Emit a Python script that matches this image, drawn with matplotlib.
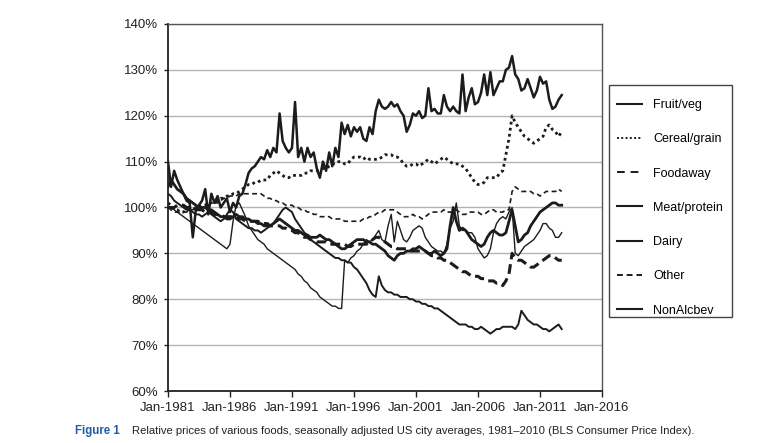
import matplotlib
matplotlib.use("Agg")
import matplotlib.pyplot as plt
from matplotlib.lines import Line2D
from matplotlib.patches import Rectangle
import pandas as pd

plt.rcParams['font.family'] = ['Liberation Sans', 'DejaVu Sans']

# quarterly readings, Jan 1981 .. Oct 2012 (values in %)
dates = pd.date_range('1981-01-01', periods=128, freq='QS')

fruit_veg = [
    110, 104.5, 108, 106,   104.5, 103, 101.5, 101,   93.5, 99.5, 100.5, 101.5,
    104, 98.5, 103, 101,    102.5, 100, 101, 102,     99, 101, 100, 102.5,
    103, 105, 107.5, 108.5, 109, 110, 111, 110.5,     112.5, 111, 113, 112,
    120.5, 114.5, 113, 112, 113, 123, 111, 113,       110, 113, 111, 112,
    108.5, 106.5, 110, 108, 112, 109, 113, 111,       118.5, 116, 118, 115.5,
    117.5, 116.5, 117.5, 115, 114.5, 117.5, 116, 121, 123.5, 122, 121.5, 122,
    123, 122, 122.5, 121,   120, 116.5, 118, 120.5,   120, 121, 119.5, 120,
    126, 121, 121.5, 120.5, 120.5, 124.5, 122, 121,   122, 121, 120.5, 129,
    121, 124, 126, 122.5,   123, 125, 129, 124.5,     129.5, 124.5, 126, 127.5,
    127.5, 130, 130.5, 133, 129, 128, 125.5, 126,     128, 126, 124, 125.5,
    128.5, 127, 127.5, 123.5, 121.5, 122, 123.5, 124.5,
]

cereal_grain = [
    101, 100.5, 99.5, 99.5, 99, 99, 99.5, 99.5,       99.5, 100, 100, 100.5,
    100.5, 101, 101, 101.5, 101.5, 102, 102, 102.5,   102.5, 103, 103, 103.5,
    104, 104.5, 105, 105,   105.5, 105.5, 106, 106,   106, 107, 107.5, 108,
    107.5, 107, 106.5, 106.5, 107, 107, 107, 107,     107.5, 107.5, 108, 108,
    108, 108.5, 108.5, 108.5, 109, 109.5, 109.5, 110, 110, 109.5, 109.5, 110.5,
    111, 111, 111, 110.5,   111, 110.5, 110.5, 110.5, 110.5, 111, 111.5, 111.5,
    111.5, 111, 111, 110.5, 109.5, 109, 109, 109.5,   109.5, 109, 109.5, 110,
    110.5, 110, 109.5, 110, 110.5, 111, 110.5, 110,   109.5, 109.5, 109.5, 109,
    108.5, 107.5, 106.5, 105.5, 105, 105, 105.5, 106.5, 106.5, 106.5, 106.5, 107.5,
    108, 111.5, 115, 120,   118.5, 117.5, 116.5, 115.5, 115, 114.5, 114, 114.5,
    115, 115.5, 117.5, 118, 117, 116.5, 115.5, 116.5,
]

foodaway = [
    100, 100, 100, 100.5,   100.5, 100.5, 100, 100,   100, 99.5, 99.5, 99.5,
    99, 99, 99, 98.5,       98.5, 98.5, 98, 98,       98, 98, 98, 97.5,
    97.5, 97, 97, 97,       97, 97, 96.5, 96.5,       96.5, 96, 96, 96,
    96, 95.5, 95.5, 95,     95, 94.5, 94.5, 94,       93.5, 93.5, 93, 93,
    92.5, 92.5, 92.5, 92.5, 92, 92, 92, 92,           92, 92, 91.5, 91.5,
    92, 92, 92, 92,         92, 92.5, 93, 93.5,       93.5, 93, 92.5, 92,
    91.5, 91.5, 91, 91,     91, 91, 90.5, 90.5,       90.5, 90.5, 90.5, 90.5,
    90, 89.5, 89.5, 89,     89, 88.5, 88.5, 88,       87.5, 87, 86.5, 86,
    86, 85.5, 85, 85,       85, 84.5, 84.5, 84,       84, 84, 83.5, 83.5,
    83, 84, 85.5, 90,       89, 88.5, 88.5, 88,       87.5, 87, 87, 87.5,
    88, 88.5, 89, 89.5,     89.5, 89, 88.5, 88.5,
]

meat_protein = [
    104.5, 106, 105, 104,   103.5, 103, 102, 101.5,   101, 100.5, 100, 100,
    100, 99.5, 99.5, 99,    98.5, 98, 98, 97.5,       97.5, 98, 98.5, 98,
    98, 97.5, 97.5, 97,     97, 96.5, 96.5, 96,       96, 96, 96.5, 97,
    97.5, 97, 96.5, 96,     95.5, 95, 95, 94.5,       94, 94, 93.5, 93.5,
    93.5, 94, 93.5, 93,     93, 92.5, 92, 91.5,       91, 91, 91.5, 92,
    92.5, 93, 93, 93,       92.5, 92.5, 92, 92,       91.5, 91, 90.5, 89.5,
    89, 88.5, 89.5, 90,     90, 90.5, 90.5, 91,       91, 91.5, 91, 90.5,
    90, 90, 90.5, 90,       89.5, 90, 91, 96,         100, 97, 95, 95.5,
    95, 94, 93, 92.5,       92, 91.5, 92, 93.5,       94.5, 95, 94.5, 94,
    94, 94.5, 97, 99.5,     96, 92.5, 93, 94,         94.5, 96, 97, 98,
    99, 99.5, 100, 100.5,   101, 101, 100.5, 100.5,
]

dairy = [
    100, 100, 99.5, 99,     98.5, 98, 97.5, 97,       96.5, 96, 95.5, 95,
    94.5, 94, 93.5, 93,     92.5, 92, 91.5, 91,       92, 97, 100.5, 101,
    99.5, 98, 96, 95,       94, 93, 92.5, 92,         91, 90.5, 90, 89.5,
    89, 88.5, 88, 87.5,     87, 86.5, 85.5, 85,       84, 83.5, 82.5, 82,
    81.5, 80.5, 80, 79.5,   79, 78.5, 78.5, 78,       78, 88.5, 88, 89,
    89.5, 90.5, 91, 92,     93, 92.5, 93, 94,         95, 93, 92.5, 96,
    98.5, 92.5, 97, 95,     93, 92.5, 93.5, 95,       95.5, 96, 95.5, 93.5,
    92.5, 91.5, 91, 90.5,   90.5, 90, 92, 95.5,       97, 101, 96, 95,
    95, 94.5, 94.5, 93.5,   91, 90, 89, 89.5,         91, 94.5, 96.5, 97.5,
    98, 97.5, 99, 100,      90, 89.5, 90.5, 91.5,     92, 92.5, 93, 94,
    95, 96.5, 96.5, 95.5,   95, 93.5, 93.5, 94.5,
]

other = [
    100, 99.5, 99, 99,      99, 99, 99, 99.5,         99.5, 100, 100, 100,
    100, 100.5, 100.5, 101, 101, 101.5, 102, 102,     102.5, 102.5, 102.5, 103,
    103, 103, 103, 103,     103, 103, 103, 102.5,     102, 102, 101.5, 101.5,
    101, 101, 100.5, 100.5, 100.5, 100, 100, 99.5,    99.5, 99, 99, 98.5,
    98.5, 98, 98, 98,       98, 97.5, 97.5, 97.5,     97.5, 97, 97, 97,
    97, 97, 97, 97.5,       97.5, 98, 98, 98.5,       99, 99, 99.5, 99.5,
    99.5, 99.5, 99, 98.5,   98, 98, 98, 98.5,         98, 98, 97.5, 98,
    98.5, 99, 99, 99,       99, 99.5, 99, 99,         99, 99.5, 99, 98.5,
    98.5, 99, 99, 99,       99, 98.5, 98.5, 99,       99.5, 99.5, 99, 99,
    99, 99.5, 99.5, 103.5,  104.5, 104, 103.5, 103.5, 103.5, 103.5, 103, 103,
    102.5, 103, 103.5, 103.5, 103.5, 103.5, 104, 103.5,
]

nonalcbev = [
    103, 102.5, 101.5, 101, 100.5, 100, 99.5, 99.5,   99, 98.5, 98.5, 98,
    98.5, 99, 98.5, 98,     97.5, 97, 97.5, 98.5,     99.5, 99, 97.5, 97,
    96.5, 96, 95.5, 95.5,   95, 95, 94.5, 95,         95.5, 96, 96.5, 97.5,
    98.5, 99.5, 100, 99.5,  99, 97.5, 96.5, 95.5,     94.5, 94, 93, 92.5,
    92, 91.5, 91, 90.5,     90, 89.5, 89, 89,         88.5, 88.5, 88, 88,
    87, 86.5, 85.5, 84.5,   83.5, 82, 81, 80.5,       85, 83, 82, 81.5,
    81.5, 81, 81, 80.5,     80.5, 80.5, 80, 80,       79.5, 79.5, 79, 79,
    78.5, 78.5, 78, 78,     77.5, 77, 76.5, 76,       75.5, 75, 74.5, 74.5,
    74.5, 74, 74, 73.5,     73.5, 74, 73.5, 73,       72.5, 73, 73.5, 73.5,
    74, 74, 74, 74,         73.5, 74.5, 77.5, 76.5,   75.5, 75, 74.5, 74.5,
    74, 73.5, 73.5, 73,     73.5, 74, 74.5, 73.5,
]

series_names = ['Fruit/veg', 'Cereal/grain', 'Foodaway', 'Meat/protein',
                'Dairy', 'Other', 'NonAlcbev']
y_ticks = [60, 70, 80, 90, 100, 110, 120, 130, 140]
x_tick_years = [1981, 1986, 1991, 1996, 2001, 2006, 2011, 2016]

ink = '#1c1c1c'
styles = {
    'Fruit/veg':    dict(lw=1.8, ls='-'),
    'Cereal/grain': dict(lw=2.0, ls=(0, (1, 1.2))),
    'Foodaway':     dict(lw=2.2, ls=(0, (3.2, 1.6))),
    'Meat/protein': dict(lw=2.0, ls='-'),
    'Dairy':        dict(lw=1.0, ls='-'),
    'Other':        dict(lw=1.2, ls=(0, (3, 2))),
    'NonAlcbev':    dict(lw=1.4, ls='-'),
}
legend_ls = {
    'Cereal/grain': (0, (1, 1.2)),
    'Foodaway': (0, (4, 3)),
    'Other': (0, (3, 2)),
}
data = dict(zip(series_names, [fruit_veg, cereal_grain, foodaway, meat_protein,
                               dairy, other, nonalcbev]))

W, H = 768, 443
fig = plt.figure(figsize=(W/100, H/100), dpi=100)
ax = fig.add_axes([168/W, 1-391/H, (602-168)/W, (391-24)/H])

for name in series_names:
    st = styles[name]
    ax.plot(dates, data[name], color=ink, linewidth=st['lw'], linestyle=st['ls'],
            solid_joinstyle='round', dash_capstyle='butt')

ax.set_ylim(60, 140)
ax.set_yticks(y_ticks)
ax.set_yticklabels([f'{v}%' for v in y_ticks])
ax.set_xlim(pd.Timestamp('1981-01-01'), pd.Timestamp('2016-01-01'))
ax.set_xticks([pd.Timestamp(f'{y}-01-01') for y in x_tick_years])
ax.set_xticklabels([f'Jan-{y}' for y in x_tick_years])
ax.yaxis.grid(True, color='#b4b4b4', linewidth=1.0)
ax.set_axisbelow(True)
for side in ['left', 'bottom']:
    ax.spines[side].set_color('#222222')
    ax.spines[side].set_linewidth(1.3)
for side in ['top', 'right']:
    ax.spines[side].set_color('#555555')
    ax.spines[side].set_linewidth(1.0)
ax.tick_params(axis='both', labelsize=9.5, colors='#222222', labelcolor='#222222')
ax.tick_params(axis='x', length=4, width=1.0, direction='out', pad=4)
ax.tick_params(axis='y', length=3, width=1.0, direction='out', pad=4)

# legend box (frame drawn separately)
fig.patches.append(Rectangle((609/W, 1-317/H), (732-609)/W, (317-85)/H,
                             transform=fig.transFigure, fill=False,
                             edgecolor='#444444', linewidth=1.0))
handles = [Line2D([], [], color=ink, linewidth=1.5 if n not in legend_ls else 1.4,
                  linestyle=legend_ls.get(n, '-')) for n in series_names]
leg = fig.legend(handles, series_names, loc='upper left',
                 bbox_to_anchor=(617/W, 1-99/H), fontsize=9,
                 frameon=False, labelspacing=1.78, handlelength=2.0,
                 handletextpad=0.9, borderpad=0, borderaxespad=0)

cap_family = ['Liberation Sans Narrow', 'Liberation Sans', 'DejaVu Sans']
fig.text(75/W, 1-431/H, 'Figure 1', fontsize=8.3, fontweight='bold',
         color='#1f5ea8', va='center', ha='left', family=cap_family)
fig.text(132/W, 1-431/H,
         'Relative prices of various foods, seasonally adjusted US city averages, '
         '1981\u20132010 (BLS Consumer Price Index).',
         fontsize=8.1, color='#222222', va='center', ha='left', family=cap_family)

fig.savefig('out.png', dpi=100)
